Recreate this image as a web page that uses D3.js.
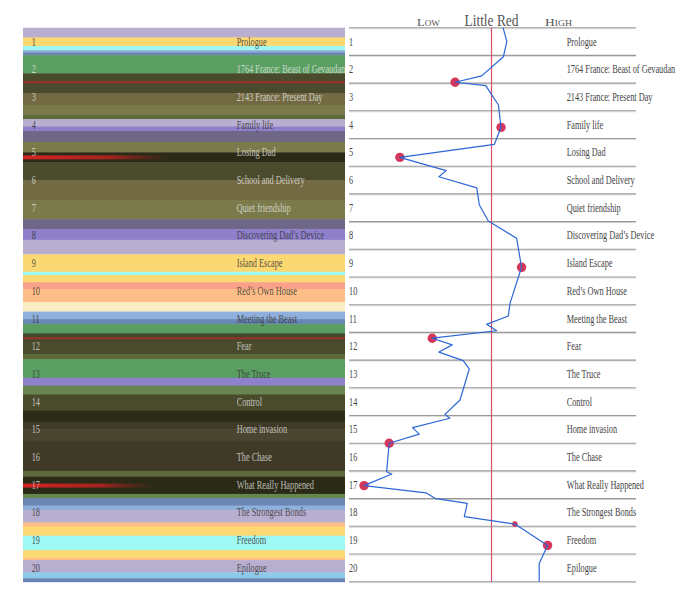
<!DOCTYPE html>
<html>
<head>
<meta charset="utf-8">
<script src="https://d3js.org/d3.v7.min.js"></script>
<style>
  body { margin: 0; background: #fff; }
  text { font-family: "Liberation Serif", serif; -webkit-font-smoothing: antialiased; }
</style>
</head>
<body>
<script>
var width = 680,
    height = 612;

// chapter titles
var chapters = ["Prologue", "1764 France: Beast of Gevaudan", "2143 France: Present Day",
  "Family life", "Losing Dad", "School and Delivery", "Quiet friendship",
  "Discovering Dad’s Device", "Island Escape", "Red’s Own House", "Meeting the Beast",
  "Fear", "The Truce", "Control", "Home invasion", "The Chase", "What Really Happened",
  "The Strongest Bonds", "Freedom", "Epilogue"];

// mood stripes: where each one starts (in chapters) and its mood
var stripeStart = [0, 0.35, 0.66, 0.81, 0.89, 0.99, 1.65, 2.37, 2.79, 3.15, 3.30, 3.57, 3.73,
  4.12, 4.50, 4.86, 5.50, 6.22, 6.91, 7.27, 7.66, 8.18, 8.81, 8.93, 9.19, 9.43, 9.91, 10.25,
  10.52, 10.70, 11.03, 11.30, 11.78, 11.97, 12.64, 12.92, 13.24, 13.83, 14.22, 14.49, 14.91,
  16.0, 16.21, 16.83, 16.99, 17.25, 17.41, 17.86, 18.01, 18.34, 18.86, 19.14, 19.22, 19.66, 19.88];
var stripeMood = ["nostalgic", "happy", "free", "calm", "pensive", "adventure", "danger", "unease",
  "dull", "wary", "nostalgic", "curious", "sad", "dull", "terror", "danger", "unease", "dull", "sad",
  "curious", "nostalgic", "happy", "free", "happy", "warm", "cozy", "content", "calm", "pensive",
  "adventure", "gloom", "danger", "wary", "adventure", "curious", "hopeful", "danger", "terror",
  "dread", "tense", "dread", "wary", "terror", "hopeful", "pensive", "calm", "nostalgic", "cozy",
  "happy", "free", "happy", "cozy", "nostalgic", "peace", "pensive"];

// moments of fear (red streaks) and how far across they reach
var fearTime = [1.97, 4.68, 11.21, 16.53];
var fearReach = [1, 0.45, 1, 0.4];

// Little Red's tension line (story time in chapters, tension 0 = low, 100 = high)
var storyTime = [0, 0.5, 1.05, 1.74, 1.97, 2.09, 2.79, 3.6, 4.21, 4.68, 5.16, 5.38, 5.78, 6.4,
  6.98, 7.6, 8.65, 9.95, 10.41, 10.71, 10.94, 11.21, 11.45, 11.71, 12.02, 12.32, 13.44, 13.96,
  14.1, 14.44, 14.67, 15.0, 16.03, 16.11, 16.53, 16.79, 16.99, 17.17, 17.65, 17.92, 18.69, 19.34, 20];
var tension = [54, 55.3, 54.1, 46.6, 37.4, 48, 52.4, 53.3, 51, 18.3, 34.3, 31.8, 44.9, 45.8,
  48.9, 58.7, 60.4, 56.4, 55.8, 48.3, 51.8, 29.5, 36.4, 31.8, 40.2, 42.3, 39.1, 33.9,
  35.6, 22.7, 25, 14.6, 13.7, 15.5, 5.9, 27.3, 30.4, 41.6, 40.6, 58.1, 69.4, 66.5, 66.5];

// key moments marked by dots (index into the line) and their weight
var keyIndex = [4, 7, 9, 16, 21, 31, 34, 39, 40];
var keyWeight = [1, 1, 1, 1, 1, 1, 1, 0.6, 1];

var moodColor = d3.scaleOrdinal()
  .domain(["nostalgic", "happy", "free", "calm", "pensive", "adventure", "danger", "unease",
    "dull", "wary", "curious", "sad", "terror", "warm", "cozy", "content", "gloom", "hopeful",
    "dread", "tense", "peace"])
  .range(["#b8aed0", "#fcd873", "#9ef8f4", "#8fb0dc", "#6a86b4", "#5a9e62", "#4a4a2c", "#736a44",
    "#7a7a4a", "#5e6a3c", "#8f80cb", "#6e6788", "#2b2a17", "#f9a08b", "#fdbe88", "#fbeec5",
    "#3e4a2c", "#67864f", "#3f3a28", "#4a4530", "#8fc8e8"]);

var y = d3.scaleLinear().domain([0, 20]).range([27.7, 581.7]);
var x = d3.scaleLinear().domain([0, 100]).range([347, 636]);
var band = d3.scaleLinear().domain([0, 1]).range([23, 345]);
var dotR = d3.scaleLinear().domain([0, 1]).range([0, 4.7]);

var svg = d3.select("body").append("svg")
  .attr("width", width)
  .attr("height", height);

var defs = svg.append("defs");
defs.append("clipPath").attr("id", "leftClip")
  .append("rect").attr("x", band(0)).attr("y", 0)
  .attr("width", band(1) - band(0)).attr("height", height);

// ---------- left panel: mood stripes ----------
var stripes = stripeStart.map(function(s, i) {
  return { start: s, end: i < stripeStart.length - 1 ? stripeStart[i + 1] : 20, mood: stripeMood[i] };
});

var left = svg.append("g").attr("clip-path", "url(#leftClip)");

left.selectAll(".stripe")
  .data(stripes)
  .enter().append("rect")
  .attr("class", "stripe")
  .attr("x", band(0))
  .attr("width", band(1) - band(0))
  .attr("y", function(d) { return y(d.start); })
  .attr("height", function(d) { return y(d.end) - y(d.start) + 0.5; })
  .attr("fill", function(d) { return moodColor(d.mood); });

fearTime.forEach(function(t, i) {
  var g = defs.append("linearGradient").attr("id", "fear" + i)
    .attr("gradientUnits", "userSpaceOnUse")
    .attr("x1", band(0)).attr("x2", band(1)).attr("y1", 0).attr("y2", 0);
  if (fearReach[i] >= 1) {
    g.append("stop").attr("offset", 0).attr("stop-color", "#a3302a").attr("stop-opacity", 0.85);
    g.append("stop").attr("offset", 1).attr("stop-color", "#a3302a").attr("stop-opacity", 0.85);
  } else {
    g.append("stop").attr("offset", 0).attr("stop-color", "#d42424").attr("stop-opacity", 1);
    g.append("stop").attr("offset", fearReach[i] * 0.6).attr("stop-color", "#c42222").attr("stop-opacity", 0.8);
    g.append("stop").attr("offset", fearReach[i]).attr("stop-color", "#a02020").attr("stop-opacity", 0);
  }
  left.append("rect")
    .attr("x", band(0))
    .attr("width", band(1) - band(0))
    .attr("y", y(t) - (fearReach[i] >= 1 ? 1.2 : 2))
    .attr("height", fearReach[i] >= 1 ? 2.4 : 4)
    .attr("fill", "url(#fear" + i + ")");
});

// average brightness of each chapter band decides its label tone
function chapterLum(c) {
  var sum = 0;
  stripes.forEach(function(s) {
    var o = Math.max(0, Math.min(s.end, c + 1) - Math.max(s.start, c));
    if (o > 0) {
      var rgb = d3.rgb(moodColor(s.mood));
      sum += o * (0.299 * rgb.r + 0.587 * rgb.g + 0.114 * rgb.b) / 255;
    }
  });
  return sum;
}

// squeeze text horizontally to look like the condensed face
function condensed(sel, k) {
  sel.each(function() {
    var w = this.getComputedTextLength();
    d3.select(this).attr("textLength", w * k).attr("lengthAdjust", "spacingAndGlyphs");
  });
}

chapters.forEach(function(name, i) {
  var light = chapterLum(i) < 0.48;
  var fill = light ? "#f2f2f2" : "#333";
  var op = light ? 0.72 : 0.85;
  var cy = (y(i) + y(i + 1)) / 2 + 4;

  left.append("text")
    .attr("x", 31.7).attr("y", cy)
    .attr("font-size", "12.5px")
    .attr("fill", fill).attr("fill-opacity", op)
    .text(i + 1)
    .call(condensed, 0.66);
  left.append("text")
    .attr("x", 236.7).attr("y", cy)
    .attr("font-size", "11.5px")
    .attr("fill", fill).attr("fill-opacity", op)
    .text(name)
    .call(condensed, 0.72);

  // right side labels
  svg.append("text")
    .attr("x", 349).attr("y", cy)
    .attr("font-size", "12.5px")
    .attr("fill", "#444")
    .text(i + 1)
    .call(condensed, 0.66);
  svg.append("text")
    .attr("x", 566.7).attr("y", cy)
    .attr("font-size", "11.5px")
    .attr("fill", "#444")
    .text(name)
    .call(condensed, 0.72);
});

// ---------- right panel: chapter rules ----------
var rules = d3.range(0, 21);
svg.selectAll(".rule-shadow")
  .data(rules)
  .enter().append("line")
  .attr("class", "rule-shadow")
  .attr("x1", 349).attr("x2", 636)
  .attr("y1", function(d) { return y(d) + 1; })
  .attr("y2", function(d) { return y(d) + 1; })
  .attr("stroke", "#ddd")
  .attr("stroke-width", 1);
svg.selectAll(".rule")
  .data(rules)
  .enter().append("line")
  .attr("class", "rule")
  .attr("x1", 349).attr("x2", 636)
  .attr("y1", function(d) { return y(d); })
  .attr("y2", function(d) { return y(d); })
  .attr("stroke", "#999")
  .attr("stroke-width", 1.1);

// centre (neutral) line
svg.append("line")
  .attr("x1", x(50)).attr("x2", x(50))
  .attr("y1", y(0)).attr("y2", y(20))
  .attr("stroke", "#d8506e")
  .attr("stroke-width", 1.2);

// header
svg.append("text")
  .attr("x", x(50)).attr("y", 25.5)
  .attr("text-anchor", "middle")
  .attr("font-size", "17px")
  .attr("fill", "#555")
  .attr("textLength", 54)
  .attr("lengthAdjust", "spacingAndGlyphs")
  .text("Little Red");
svg.append("text")
  .attr("x", 417).attr("y", 25.5)
  .attr("font-size", "11px")
  .attr("font-variant", "small-caps")
  .attr("fill", "#555")
  .attr("textLength", 23)
  .attr("lengthAdjust", "spacingAndGlyphs")
  .text("Low");
svg.append("text")
  .attr("x", 545).attr("y", 25.5)
  .attr("font-size", "11px")
  .attr("font-variant", "small-caps")
  .attr("fill", "#555")
  .attr("textLength", 27)
  .attr("lengthAdjust", "spacingAndGlyphs")
  .text("High");

// key moment dots
svg.selectAll(".dot")
  .data(keyIndex)
  .enter().append("circle")
  .attr("class", "dot")
  .attr("cx", function(k) { return x(tension[k]); })
  .attr("cy", function(k) { return y(storyTime[k]); })
  .attr("r", function(k, i) { return dotR(keyWeight[i]); })
  .attr("fill", "#d4375a");

// tension line
var line = d3.line()
  .x(function(d, i) { return x(tension[i]); })
  .y(function(d, i) { return y(storyTime[i]); });

svg.append("path")
  .datum(storyTime)
  .attr("d", line)
  .attr("fill", "none")
  .attr("stroke", "#2c66d6")
  .attr("stroke-width", 1.2)
  .attr("stroke-linejoin", "round");
</script>
</body>
</html>
